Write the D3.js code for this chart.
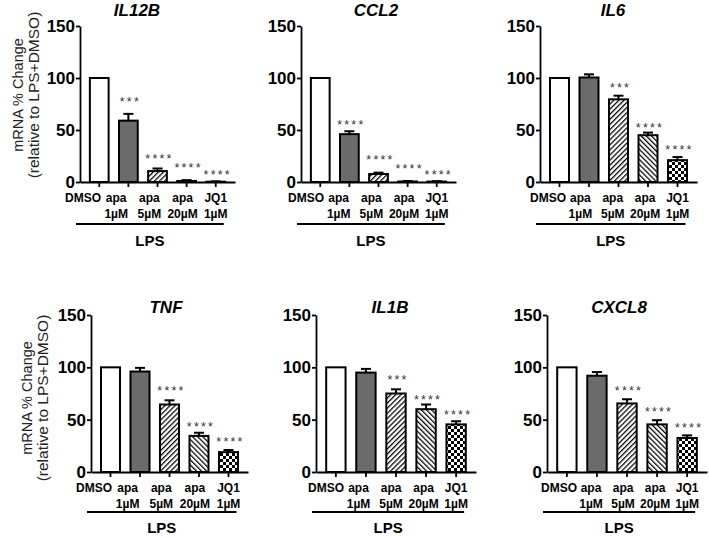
<!DOCTYPE html>
<html>
<head>
<meta charset="utf-8">
<script src="https://cdn.jsdelivr.net/npm/d3@7/dist/d3.min.js"></script>
<style>
  html, body { margin: 0; padding: 0; background: #fff; }
  svg { display: block; font-family: "Liberation Sans", Arial, sans-serif; }
</style>
</head>
<body>
<svg id="chart" width="709" height="538"></svg>
<script>
// ---------------- data ----------------
const genes = ["IL12B", "CCL2", "IL6", "TNF", "IL1B", "CXCL8"];
const groups = ["DMSO", "apa 1µM", "apa 5µM", "apa 20µM", "JQ1 1µM"];
const groupLine1 = ["DMSO", "apa", "apa", "apa", "JQ1"];
const groupLine2 = ["", "1µM", "5µM", "20µM", "1µM"];
const yTicks = [0, 50, 100, 150];
const yTitle1 = "mRNA % Change";
const yTitle2 = "(relative to LPS+DMSO)";
const treatmentLabel = "LPS";

// mean, SEM (upper whisker) and significance marks with the level (data units) they sit at
const meanIL12B = [100, 59, 10.5, 1, 0.3];
const errIL12B  = [0, 6.5, 2.5, 0.8, 0.3];
const sigIL12B  = ["", "***", "****", "****", "****"];
const sigYIL12B = [0, 79, 25, 16, 9.5];

const meanCCL2 = [100, 46, 7.7, 0.5, 0.4];
const errCCL2  = [0, 2.8, 1.3, 0.5, 0.4];
const sigCCL2  = ["", "****", "****", "****", "****"];
const sigYCCL2 = [0, 57.5, 24, 14.5, 9.5];

const meanIL6 = [100, 100.5, 79.5, 45, 21];
const errIL6  = [0, 3, 3.5, 2.5, 3];
const sigIL6  = ["", "", "***", "****", "****"];
const sigYIL6 = [0, 0, 93, 54, 33.5];

const meanTNF = [100, 96, 64.5, 34.5, 19];
const errTNF  = [0, 3.5, 4, 3, 2];
const sigTNF  = ["", "", "****", "****", "****"];
const sigYTNF = [0, 0, 80, 45, 31.5];

const meanIL1B = [100, 95, 75, 60, 45.5];
const errIL1B  = [0, 3.5, 4, 4.5, 3];
const sigIL1B  = ["", "", "***", "****", "****"];
const sigYIL1B = [0, 0, 90, 71.5, 56.5];

const meanCXCL8 = [100, 92, 65.5, 45.5, 32.5];
const errCXCL8  = [0, 3.5, 4, 4, 2.5];
const sigCXCL8  = ["", "", "****", "****", "****"];
const sigYCXCL8 = [0, 0, 79.5, 60, 44];

const means = [meanIL12B, meanCCL2, meanIL6, meanTNF, meanIL1B, meanCXCL8];
const errs  = [errIL12B, errCCL2, errIL6, errTNF, errIL1B, errCXCL8];
const sigs  = [sigIL12B, sigCCL2, sigIL6, sigTNF, sigIL1B, sigCXCL8];
const sigYs = [sigYIL12B, sigYCCL2, sigYIL6, sigYTNF, sigYIL1B, sigYCXCL8];

// ---------------- layout ----------------
const panelAxisX = [80, 301, 540, 91, 316, 547];
const panelAxisLen = [155, 155, 157, 157, 160, 160];
const panelLabelStart = [3, 5, 8, 3, 10, 12];
const panelRow   = [0, 0, 0, 1, 1, 1];
const rowY0   = [182, 472];
const rowY150 = [26, 315];
const titleOffset = [57, 75, 73, 75, 74, 72];
const titleBaseline = [16, 313];
const fills = ["#ffffff", "#6b6b6b", "url(#hatchR)", "url(#hatchL)", "url(#checker)"];
const font = '"Liberation Sans", Arial, sans-serif';

const svg = d3.select("#chart");

// patterns
const defs = svg.append("defs");
function hatch(id, angle) {
  const p = defs.append("pattern").attr("id", id)
    .attr("patternUnits", "userSpaceOnUse").attr("width", 3.6).attr("height", 3.6)
    .attr("patternTransform", `rotate(${angle})`);
  p.append("rect").attr("width", 3.6).attr("height", 3.6).attr("fill", "#fff");
  p.append("line").attr("x1", 0.6).attr("y1", 0).attr("x2", 0.6).attr("y2", 3.6)
    .attr("stroke", "#000").attr("stroke-width", 1.3);
}
hatch("hatchR", 45);
hatch("hatchL", -45);
const ck = defs.append("pattern").attr("id", "checker")
  .attr("patternUnits", "userSpaceOnUse").attr("width", 6).attr("height", 6);
ck.append("rect").attr("width", 6).attr("height", 6).attr("fill", "#fff");
ck.append("rect").attr("width", 3).attr("height", 3).attr("fill", "#000");
ck.append("rect").attr("x", 3).attr("y", 3).attr("width", 3).attr("height", 3).attr("fill", "#000");

genes.forEach((gene, gi) => {
  const row = panelRow[gi];
  const ax = panelAxisX[gi];
  const len = panelAxisLen[gi];
  const x = d3.scaleBand().domain(groups).range([0, len])
    .paddingInner(0.356).paddingOuter(0.339);
  const lastC = x(groups[groups.length - 1]) + x.bandwidth() / 2;
  const xl = d3.scalePoint().domain(groups).range([panelLabelStart[gi], lastC]);
  const y = d3.scaleLinear().domain([0, 150]).range([rowY0[row], rowY150[row]]);
  const g = svg.append("g").attr("transform", `translate(${ax},0)`);

  // title
  svg.append("text").attr("x", ax + titleOffset[gi]).attr("y", titleBaseline[row])
    .attr("text-anchor", "middle").attr("font-size", 17).attr("font-weight", "bold")
    .attr("font-style", "italic").attr("font-family", font).text(gene);

  // bars
  const data = groups.map((k, i) => ({ k, i, m: means[gi][i], e: errs[gi][i], s: sigs[gi][i], sy: sigYs[gi][i] }));
  g.selectAll("rect.bar").data(data).enter().append("rect")
    .attr("class", "bar")
    .attr("x", d => x(d.k))
    .attr("y", d => y(d.m))
    .attr("width", x.bandwidth())
    .attr("height", d => y(0) - y(d.m))
    .attr("fill", d => fills[d.i])
    .attr("stroke", "#000").attr("stroke-width", 2);

  // error bars (upper)
  const eb = g.selectAll("g.err").data(data.filter(d => d.e > 0)).enter().append("g");
  eb.append("line")
    .attr("x1", d => x(d.k) + x.bandwidth() / 2).attr("x2", d => x(d.k) + x.bandwidth() / 2)
    .attr("y1", d => y(d.m)).attr("y2", d => y(d.m + d.e))
    .attr("stroke", "#000").attr("stroke-width", 2);
  eb.append("line")
    .attr("x1", d => x(d.k) + x.bandwidth() / 2 - 5).attr("x2", d => x(d.k) + x.bandwidth() / 2 + 5)
    .attr("y1", d => y(d.m + d.e)).attr("y2", d => y(d.m + d.e))
    .attr("stroke", "#000").attr("stroke-width", 2);

  // significance stars
  g.selectAll("text.sig").data(data.filter(d => d.s)).enter().append("text")
    .attr("x", d => x(d.k) + x.bandwidth() / 2 + 2)
    .attr("y", d => y(d.sy) + 6.5)
    .attr("text-anchor", "middle").attr("font-size", 12.5).attr("letter-spacing", "2.2px")
    .attr("fill", "#333").attr("font-family", font).text(d => d.s);

  // y axis
  const ya = g.append("g").call(d3.axisLeft(y).tickValues(yTicks).tickSize(4).tickSizeOuter(0).tickPadding(1));
  ya.select(".domain").attr("stroke-width", 1.8);
  ya.selectAll(".tick line").attr("stroke-width", 1.8);
  ya.selectAll(".tick text").attr("font-size", 17).attr("font-weight", "bold")
    .attr("font-family", font).attr("fill", "#000");

  // x axis
  const xa = g.append("g").attr("transform", `translate(0,${y(0)})`)
    .call(d3.axisBottom(x).tickSize(5).tickSizeOuter(0).tickFormat(""));
  xa.select(".domain").attr("stroke-width", 1.8);
  xa.selectAll(".tick line").attr("stroke-width", 1.8);

  // x labels
  groups.forEach((k, i) => {
    const cx = xl(k);
    g.append("text").attr("x", cx).attr("y", y(0) + 20).attr("text-anchor", "middle")
      .attr("font-size", 12).attr("font-weight", "bold").attr("font-family", font).text(groupLine1[i]);
    if (groupLine2[i]) {
      g.append("text").attr("x", cx).attr("y", y(0) + 35.5).attr("text-anchor", "middle")
        .attr("font-size", 12).attr("font-weight", "bold").attr("font-family", font).text(groupLine2[i]);
    }
  });

  // LPS bracket
  const lineY = y(0) + (row === 0 ? 42 : 40);
  g.append("line").attr("x1", -4).attr("x2", lastC + 8).attr("y1", lineY).attr("y2", lineY)
    .attr("stroke", "#000").attr("stroke-width", 2);
  g.append("text").attr("x", (lastC + 4) / 2).attr("y", y(0) + (row === 0 ? 64 : 61))
    .attr("text-anchor", "middle").attr("font-size", 15).attr("font-weight", "bold")
    .attr("font-family", font).text(treatmentLabel);

  // y title on first panel of each row
  if (gi === 0 || gi === 3) {
    const cy = row === 0 ? 95 : 398;
    const x1 = row === 0 ? 18 : 27;
    const x2 = row === 0 ? 34 : 43;
    [[x1, yTitle1, 14.5], [x2, yTitle2, 15.5]].forEach(([tx, t, fs]) => {
      svg.append("text").attr("transform", `translate(${tx + 5},${cy}) rotate(-90)`)
        .attr("text-anchor", "middle").attr("font-size", fs).attr("font-family", font)
        .attr("fill", "#222").text(t);
    });
  }
});
</script>
</body>
</html>
